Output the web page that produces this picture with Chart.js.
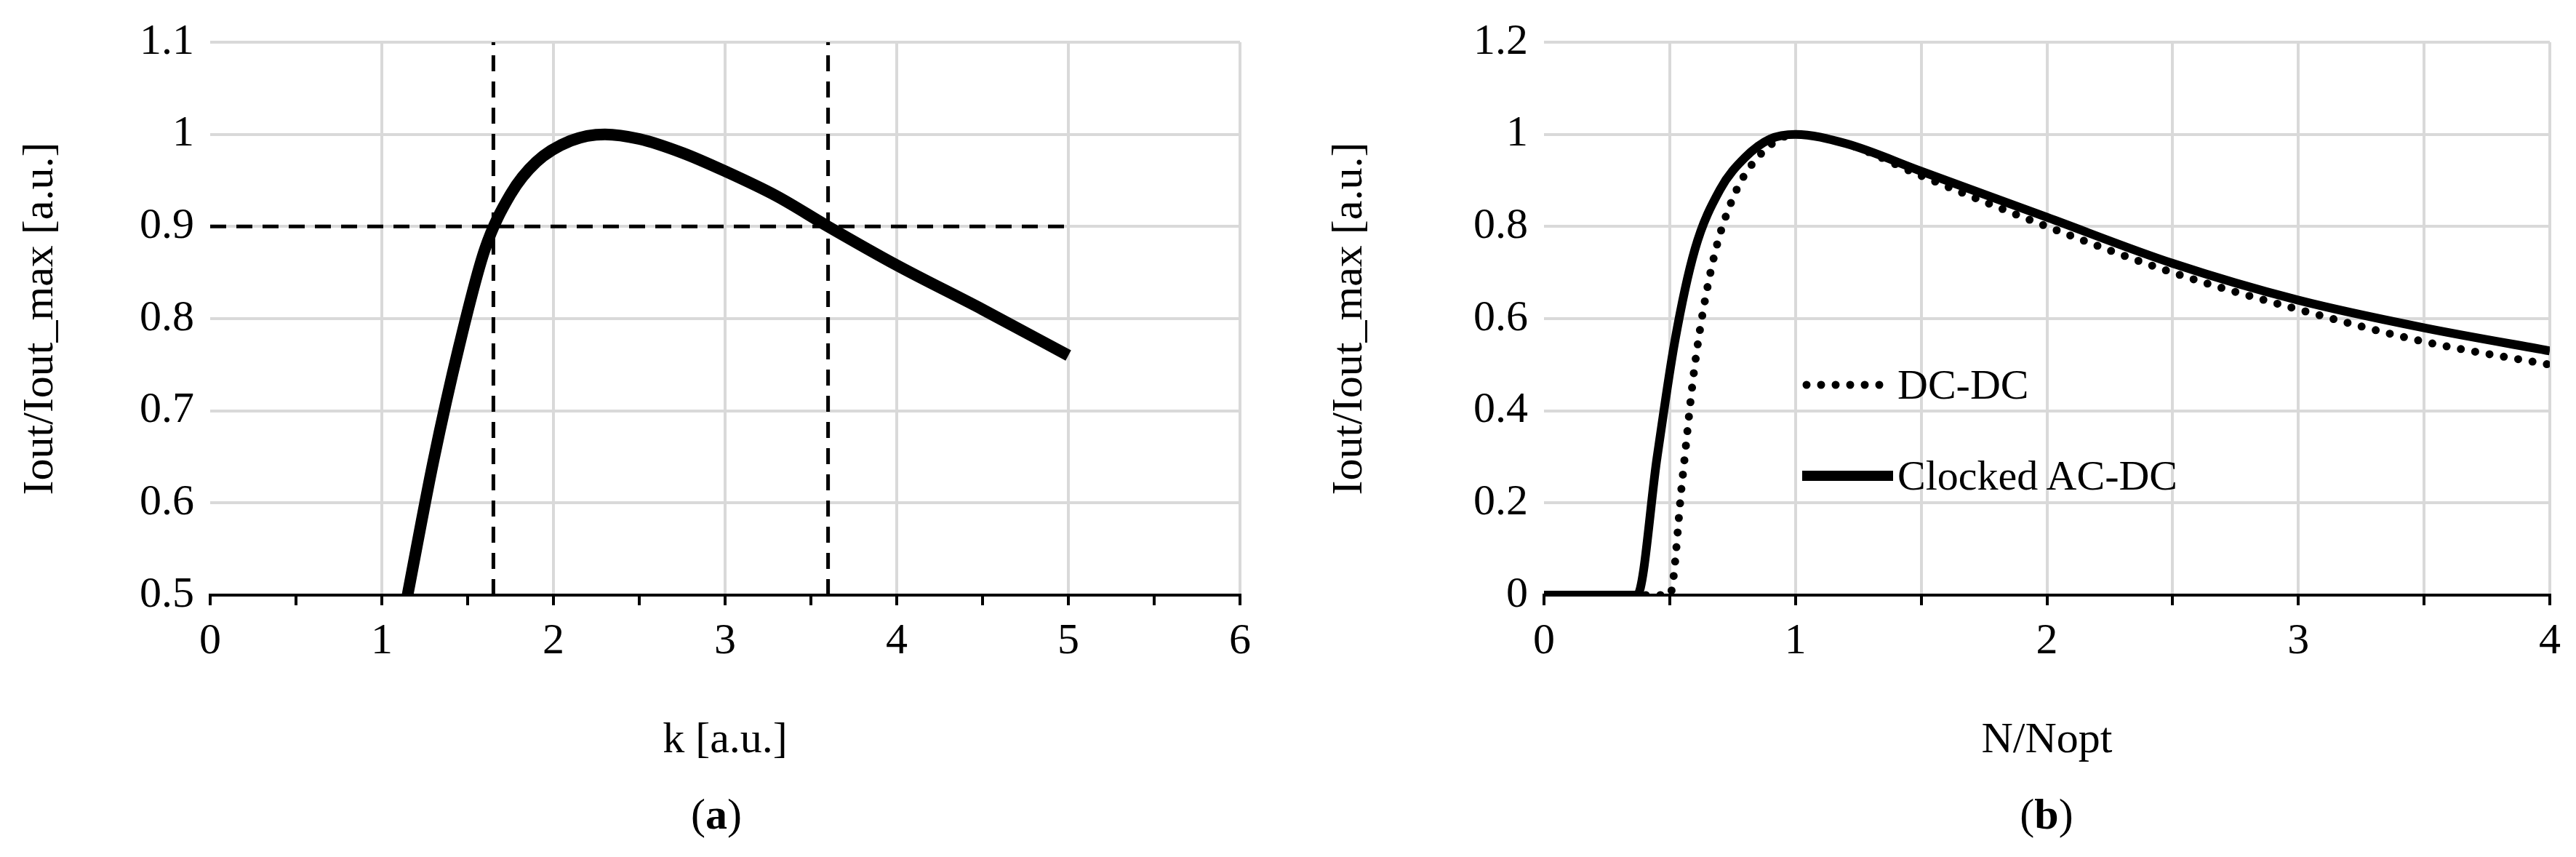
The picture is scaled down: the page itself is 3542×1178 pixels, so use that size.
<!DOCTYPE html>
<html><head><meta charset="utf-8">
<script src="https://cdn.jsdelivr.net/npm/chart.js@4"></script>
<style>
body{margin:0;background:#fff;width:3542px;height:1178px;overflow:hidden;position:relative;font-family:"Liberation Serif",serif}
.c{position:absolute;top:0}
.cap{position:absolute;top:1085px;font-size:60px;width:200px;text-align:center}
.lg{position:absolute;font-size:58px;display:flex;align-items:center}
</style></head><body>
<div class="c" style="left:0;width:1760px;height:1178px"><canvas id="a"></canvas></div>
<div class="c" style="left:1800px;width:1742px;height:1178px"><canvas id="b"></canvas></div>
<div class="cap" style="left:885px">(<b>a</b>)</div>
<div class="cap" style="left:2714px">(<b>b</b>)</div>
<div class="lg" style="left:2478px;top:495px"><svg width="125" height="20"><line x1="6" y1="10" x2="120" y2="10" stroke="#000" stroke-width="11" stroke-linecap="round" stroke-dasharray="0 20"/></svg><span style="margin-left:6px">DC-DC</span></div>
<div class="lg" style="left:2478px;top:620px"><svg width="125" height="20"><line x1="0" y1="10" x2="125" y2="10" stroke="#000" stroke-width="14"/></svg><span style="margin-left:6px">Clocked AC-DC</span></div>
<script>
const kVals=[1.15,1.3,1.45,1.6,1.75,1.9,2.1,2.3,2.5,2.75,3.0,3.3,3.6,4.0,4.5,5.0];
const iVals=[0.5,0.645,0.77,0.875,0.935,0.97,0.993,1.0,0.995,0.98,0.96,0.933,0.9,0.858,0.81,0.76];
const kMarks=[1.65,3.6];
const level=0.9;
const acX=[0,0.37,0.45,0.52,0.6,0.7,0.8,0.9,1.0,1.2,1.5,2.0,2.5,3.0,3.5,4.0];
const acY=[0,0,0.3,0.55,0.75,0.88,0.95,0.99,1.0,0.98,0.92,0.82,0.72,0.64,0.58,0.53];
const dcX=[0,0.5,0.55,0.6,0.67,0.75,0.85,1.0,1.2,1.5,2.0,2.5,3.0,3.5,4.0];
const dcY=[0,0,0.25,0.5,0.72,0.86,0.95,1.0,0.98,0.91,0.8,0.7,0.62,0.55,0.5];

const F="'Liberation Serif', serif";
const font={family:F,size:60};
const pts=(xs,ys)=>xs.map((x,i)=>({x,y:ys[i]}));
function fmt(v){return (Math.round(v*10)/10).toString();}
function opts(xmax,ymin,ymax,ystep,xt,yw,gridEvery,padR,titleB){
 return {responsive:true,maintainAspectRatio:false,animation:false,
 layout:{padding:{top:30,bottom:120,right:padR}},
 plugins:{legend:{display:false},tooltip:{enabled:false}},
 scales:{
  x:{type:'linear',min:0,max:xmax,
   ticks:{stepSize:0.5,font,color:'#000',padding:14,maxRotation:0,callback:v=>Number.isInteger(v)?v:''},
   grid:{color:c=>(c.tick&&(gridEvery||Number.isInteger(c.tick.value))&&c.tick.value>0)?'#d9d9d9':'rgba(0,0,0,0)',lineWidth:4,drawTicks:true,tickLength:14,tickColor:'#000'},
   border:{color:'#000',width:4},
   title:{display:true,text:xt,font,color:'#000',padding:{top:40}},
   afterFit:s=>{s.height=240;}},
  y:{min:ymin,max:ymax,
   ticks:{stepSize:ystep,font,color:'#000',padding:22,callback:v=>fmt(v)},
   grid:{color:'#d9d9d9',lineWidth:4,drawTicks:false},
   border:{display:false},
   title:{display:true,text:'Iout/Iout_max [a.u.]',font,color:'#000',padding:{top:titleB,bottom:10}},
   afterFit:s=>{s.width=yw;}}
 }};
}
const la={type:'line',data:{datasets:[
 {data:pts(kVals,iVals),borderColor:'#000',borderWidth:16,pointRadius:0,cubicInterpolationMode:'monotone'},
 {data:[{x:0,y:level},{x:5,y:level}],borderColor:'#000',borderWidth:5,borderDash:[22,14],pointRadius:0},
 {data:[{x:kMarks[0],y:0.5},{x:kMarks[0],y:1.1}],borderColor:'#000',borderWidth:5,borderDash:[22,14],pointRadius:0},
 {data:[{x:kMarks[1],y:0.5},{x:kMarks[1],y:1.1}],borderColor:'#000',borderWidth:5,borderDash:[22,14],pointRadius:0}
]},options:opts(6,0.5,1.1,0.1,'k [a.u.]',289,false,55,20)};
new Chart(document.getElementById('a'),la);
const lb={type:'line',data:{datasets:[
 {data:pts(dcX,dcY),borderColor:'#000',borderWidth:11,borderDash:[0,20],borderCapStyle:'round',pointRadius:0,cubicInterpolationMode:'monotone'},
 {data:pts(acX,acY),borderColor:'#000',borderWidth:12,pointRadius:0,cubicInterpolationMode:'monotone'}
]},options:opts(4,0,1.2,0.2,'N/Nopt',323,true,36,20)};
new Chart(document.getElementById('b'),lb);
</script></body></html>
